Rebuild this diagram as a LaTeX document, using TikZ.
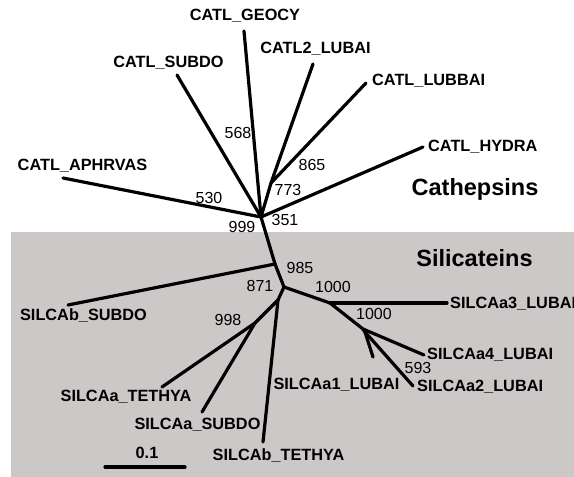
\documentclass[tikz,border=0pt]{standalone}
\usepackage{fontspec}
\setmainfont{Liberation Sans}
\usepackage{tikz}
\definecolor{silbg}{RGB}{205,200,200}

\begin{document}
\begin{tikzpicture}[x=1pt, y=-1pt,
    leaf/.style={font=\bfseries\fontsize{16.3}{18}\selectfont, inner sep=0pt},
    boot/.style={font=\fontsize{16}{18}\selectfont, inner sep=0pt},
    family/.style={font=\bfseries\fontsize{23.5}{26}\selectfont, inner sep=0pt},
    branch/.style={line width=3.2pt, line cap=round, line join=round}]

    \useasboundingbox (0, 0) rectangle (574, 477);
    \fill [silbg] (11, 232) rectangle (574, 477);

    \coordinate (cat) at (261, 217);
    \coordinate (lub) at (271, 183);
    \coordinate (sb) at (275, 264);
    \coordinate (sil) at (284, 287);
    \coordinate (teth) at (278, 300);
    \coordinate (sa) at (255, 323);
    \coordinate (a3n) at (330, 303);
    \coordinate (a4n) at (363, 329);
    \coordinate (a2n) at (365, 332);

    \coordinate (geocy) at (244, 31);
    \coordinate (lubai2) at (313, 64);
    \coordinate (subdo) at (177, 75);
    \coordinate (lubbai) at (366, 83);
    \coordinate (hydra) at (423, 147);
    \coordinate (aphr) at (63, 178);
    \coordinate (bsubdo) at (68, 305);
    \coordinate (a3) at (447, 303);
    \coordinate (a4) at (424, 355);
    \coordinate (a2) at (413, 386);
    \coordinate (a1) at (373, 357);
    \coordinate (ateth) at (162, 387);
    \coordinate (asubdo) at (202, 412);
    \coordinate (bteth) at (263, 442);
    \coordinate (barl) at (105, 467);
    \coordinate (barr) at (185, 467);

    \node [leaf] (lgeocy) at (245, 16) {CATL\_GEOCY};
    \node [leaf] (llubai2) at (315.5, 49) {CATL2\_LUBAI};
    \node [leaf] (lsubdo) at (168.5, 63) {CATL\_SUBDO};
    \node [leaf, anchor=west] (llubbai) at (372, 81) {CATL\_LUBBAI};
    \node [leaf, anchor=west] (lhydra) at (428, 147) {CATL\_HYDRA};
    \node [leaf] (laphr) at (82.5, 166) {CATL\_APHRVAS};
    \node [leaf] (lbsubdo) at (83.5, 316) {SILCAb\_SUBDO};
    \node [leaf, anchor=west] (la3) at (450, 304) {SILCAa3\_LUBAI};
    \node [leaf, anchor=west] (la4) at (427, 355) {SILCAa4\_LUBAI};
    \node [leaf, anchor=west] (la2) at (417, 387) {SILCAa2\_LUBAI};
    \node [leaf] (la1) at (336.5, 385) {SILCAa1\_LUBAI};
    \node [leaf] (lateth) at (126, 397) {SILCAa\_TETHYA};
    \node [leaf] (lasubdo) at (197.5, 425) {SILCAa\_SUBDO};
    \node [leaf] (lbteth) at (278.5, 456) {SILCAb\_TETHYA};
    \node [leaf] (lbar) at (147, 453) {0.1};

    \node [family] (cathepsins) at (475, 189) {Cathepsins};
    \node [family] (silicateins) at (474.5, 258) {Silicateins};

    \node [boot] (b568) at (238, 133) {568};
    \node [boot] (b865) at (312, 165) {865};
    \node [boot] (b773) at (288, 190) {773};
    \node [boot] (b530) at (209, 198) {530};
    \node [boot] (b999) at (242, 227) {999};
    \node [boot] (b351) at (285, 220) {351};
    \node [boot] (b985) at (300, 268) {985};
    \node [boot] (b871) at (260, 286) {871};
    \node [boot] (b1000a) at (333, 287) {1000};
    \node [boot] (b1000b) at (374, 314) {1000};
    \node [boot] (b998) at (228, 320) {998};
    \node [boot] (b593) at (418, 368) {593};

    \draw [branch] (cat) to (geocy);
    \draw [branch] (cat) to (subdo);
    \draw [branch] (cat) to (aphr);
    \draw [branch] (cat) to (hydra);
    \draw [branch] (cat) to (lub);
    \draw [branch] (lub) to (lubai2);
    \draw [branch] (lub) to (lubbai);

    \draw [branch] (cat) to (sb);
    \draw [branch] (sb) to (bsubdo);
    \draw [branch] (sb) to (sil);

    \draw [branch] (sil) to (teth);
    \draw [branch] (teth) to (sa);
    \draw [branch] (sa) to (ateth);
    \draw [branch] (sa) to (asubdo);
    \draw [branch] (teth) to (bteth);

    \draw [branch] (sil) to (a3n);
    \draw [branch] (a3n) to (a3);
    \draw [branch] (a3n) to (a4n);
    \draw [branch] (a4n) to (a4);
    \draw [branch] (a4n) to (a2n);
    \draw [branch] (a2n) to (a1);
    \draw [branch] (a2n) to (a2);

    \draw [branch] (barl) to (barr);

  \end{tikzpicture}
\end{document}
